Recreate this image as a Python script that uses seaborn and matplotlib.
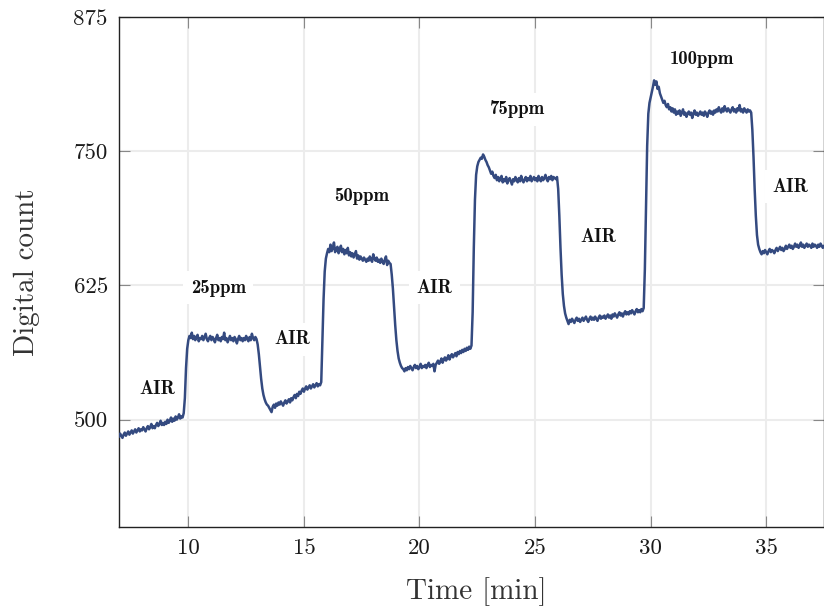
import numpy as np
import pandas as pd
import matplotlib
matplotlib.use("Agg")
import matplotlib.pyplot as plt
import seaborn as sns

# Sensor readout sampled every 0.05 min (3 s), split by gas phase
t_start = 7.0
t_step = 0.05

air_1 = [484, 487, 485, 483, 486, 488, 485, 487, 489, 486,
         488, 490, 487, 489, 491, 488, 490, 492, 489, 491,
         490, 493, 491, 489, 492, 494, 491, 493, 496, 492,
         494, 492, 495, 497, 494, 496, 499, 495, 497, 495,
         498, 496, 500, 497, 499, 502, 498, 501, 499, 503,
         500, 502, 505, 501, 503, 502, 506]
ppm_25 = [520, 548, 566, 574, 578, 576, 581, 575, 578, 574,
          577, 579, 573, 576, 575, 578, 574, 577, 580, 575,
          573, 576, 578, 574, 577, 575, 572, 576, 579, 574,
          576, 573, 577, 575, 581, 574, 576, 572, 575, 578,
          574, 576, 573, 577, 575, 571, 575, 578, 574, 576,
          573, 576, 574, 578, 575, 573, 577, 574, 580, 576,
          574, 577, 575]
air_2 = [570, 561, 549, 538, 529, 523, 519, 516, 514, 513,
         511, 509, 507, 512, 514, 511, 515, 513, 516, 514,
         517, 515, 513, 516, 518, 515, 517, 519, 516, 520,
         518, 521, 523, 520, 524, 522, 526, 524, 527, 529,
         526, 529, 531, 528, 530, 532, 529, 531, 533, 530,
         532, 534, 531, 533, 532, 535]
ppm_50 = [575, 612, 638, 650, 655, 659, 656, 663, 657, 660,
          665, 656, 659, 661, 655, 658, 662, 656, 659, 654,
          658, 655, 660, 653, 656, 652, 655, 651, 654, 657,
          650, 653, 649, 652, 650, 648, 651, 649, 647, 650,
          648, 652, 649, 647, 654, 650, 648, 651, 647, 649,
          646, 650, 647, 645, 649, 652, 644, 648, 646, 645]
air_3 = [635, 622, 605, 588, 574, 564, 557, 553, 550, 548,
         547, 545, 548, 546, 549, 547, 550, 548, 546, 549,
         551, 548, 550, 547, 549, 552, 548, 550, 549, 551,
         548, 551, 553, 549, 551, 550, 552, 545, 551, 553,
         555, 552, 554, 557, 553, 556, 558, 555, 557, 560,
         556, 559, 561, 558, 560, 562, 559, 563, 561, 564,
         562, 565, 563, 566, 564, 567, 565, 568, 566, 569]
ppm_75 = [600, 660, 705, 728, 736, 740, 742, 744, 743, 747,
          745, 742, 740, 737, 735, 732, 729, 731, 727, 725,
          728, 723, 726, 722, 725, 727, 721, 724, 722, 726,
          720, 723, 725, 722, 719, 724, 722, 726, 723, 721,
          725, 722, 727, 723, 721, 724, 726, 722, 725, 723,
          727, 722, 724, 726, 723, 725, 722, 727, 724, 722,
          726, 723, 725, 728, 724, 722, 726, 724, 727, 723,
          726, 725, 724, 726]
air_4 = [715, 690, 660, 635, 617, 606, 599, 595, 592, 589,
         593, 591, 594, 592, 590, 593, 595, 592, 594, 591,
         593, 595, 592, 594, 596, 593, 591, 594, 596, 593,
         595, 593, 596, 594, 592, 595, 597, 594, 596, 595,
         597, 594, 596, 598, 595, 597, 594, 598, 596, 599,
         597, 595, 598, 600, 597, 599, 596, 599, 601, 598,
         600, 598, 601, 599, 602, 600, 598, 601, 603, 600,
         602, 600, 603, 601, 604]
ppm_100 = [640, 700, 755, 785, 795, 800, 805, 810, 816, 812,
           815, 808, 810, 804, 801, 798, 795, 797, 793, 791,
           794, 789, 791, 787, 790, 786, 789, 784, 787, 785,
           788, 783, 786, 789, 784, 786, 782, 785, 787, 784,
           786, 781, 785, 788, 784, 786, 783, 785, 787, 784,
           786, 783, 787, 785, 782, 786, 788, 785, 787, 784,
           788, 786, 789, 787, 791, 788, 786, 790, 787, 792,
           789, 787, 790, 788, 786, 789, 791, 787, 789, 786,
           790, 788, 793, 787, 789, 786, 790, 788, 786, 789,
           787, 788, 786]
air_5 = [770, 745, 715, 690, 672, 663, 659, 656, 654, 657,
         655, 658, 656, 654, 657, 659, 656, 658, 657, 655,
         658, 660, 657, 659, 661, 658, 660, 657, 659, 662,
         659, 661, 663, 660, 662, 659, 661, 664, 661, 663,
         660, 662, 665, 661, 663, 660, 662, 664, 661, 663,
         662, 660, 664, 661, 663, 662, 660, 663, 661, 664,
         662, 660, 662]

phase_labels = ["AIR", "25ppm", "AIR", "50ppm", "AIR", "75ppm", "AIR", "100ppm", "AIR"]
label_x = [8.65, 11.3, 14.5, 17.5, 20.65, 24.25, 27.75, 32.2, 36.05]
label_y = [529, 623, 575, 708, 623, 789, 670, 836, 717]

x_ticks = [10, 15, 20, 25, 30, 35]
y_ticks = [500, 625, 750, 875]

counts = np.concatenate([air_1, ppm_25, air_2, ppm_50, air_3,
                         ppm_75, air_4, ppm_100, air_5]).astype(float)
time_min = np.round(t_start + t_step * np.arange(len(counts)), 3)
df = pd.DataFrame({"time": time_min, "count": counts})

sns.set_style("ticks")
plt.rcParams["font.family"] = ["cmr10", "DejaVu Serif"]
plt.rcParams["axes.unicode_minus"] = False
plt.rcParams["mathtext.fontset"] = "cm"

fig = plt.figure(figsize=(8.24, 6.08), dpi=100)
ax = fig.add_axes([0.1444, 0.1332, 0.8556, 0.8388])

ax.grid(True, color="#ececec", linewidth=1.5, zorder=0)
ax.set_axisbelow(True)

sns.lineplot(data=df, x="time", y="count", ax=ax, color="#344a80",
             linewidth=1.8, estimator=None, zorder=3)

for txt, xv, yv in zip(phase_labels, label_x, label_y):
    ax.text(xv, yv, txt, ha="center", va="center", fontsize=13.5,
            family=["cmb10", "DejaVu Serif"], color="#111111", zorder=5,
            bbox=dict(facecolor="white", edgecolor="none", boxstyle="square,pad=0.4"))

ax.set_xlim(7, 37.5)
ax.set_ylim(400, 875)
ax.set_xticks(x_ticks)
ax.set_yticks(y_ticks)
ax.tick_params(direction="in", length=8, width=0.8, color="#888888",
               labelsize=16.5, labelcolor="#1a1a1a", pad=8,
               top=True, right=True)

for side in ["left", "bottom", "top", "right"]:
    ax.spines[side].set_color("#222222")
    ax.spines[side].set_linewidth(1.0)
    ax.spines[side].set_visible(True)

ax.set_xlabel("Time [min]", fontsize=21, color="#333333", labelpad=13)
ax.xaxis.set_label_coords(0.507, -0.098)
ax.set_ylabel("Digital count", fontsize=21, color="#333333", labelpad=24)

fig.savefig("out.png", dpi=100)
